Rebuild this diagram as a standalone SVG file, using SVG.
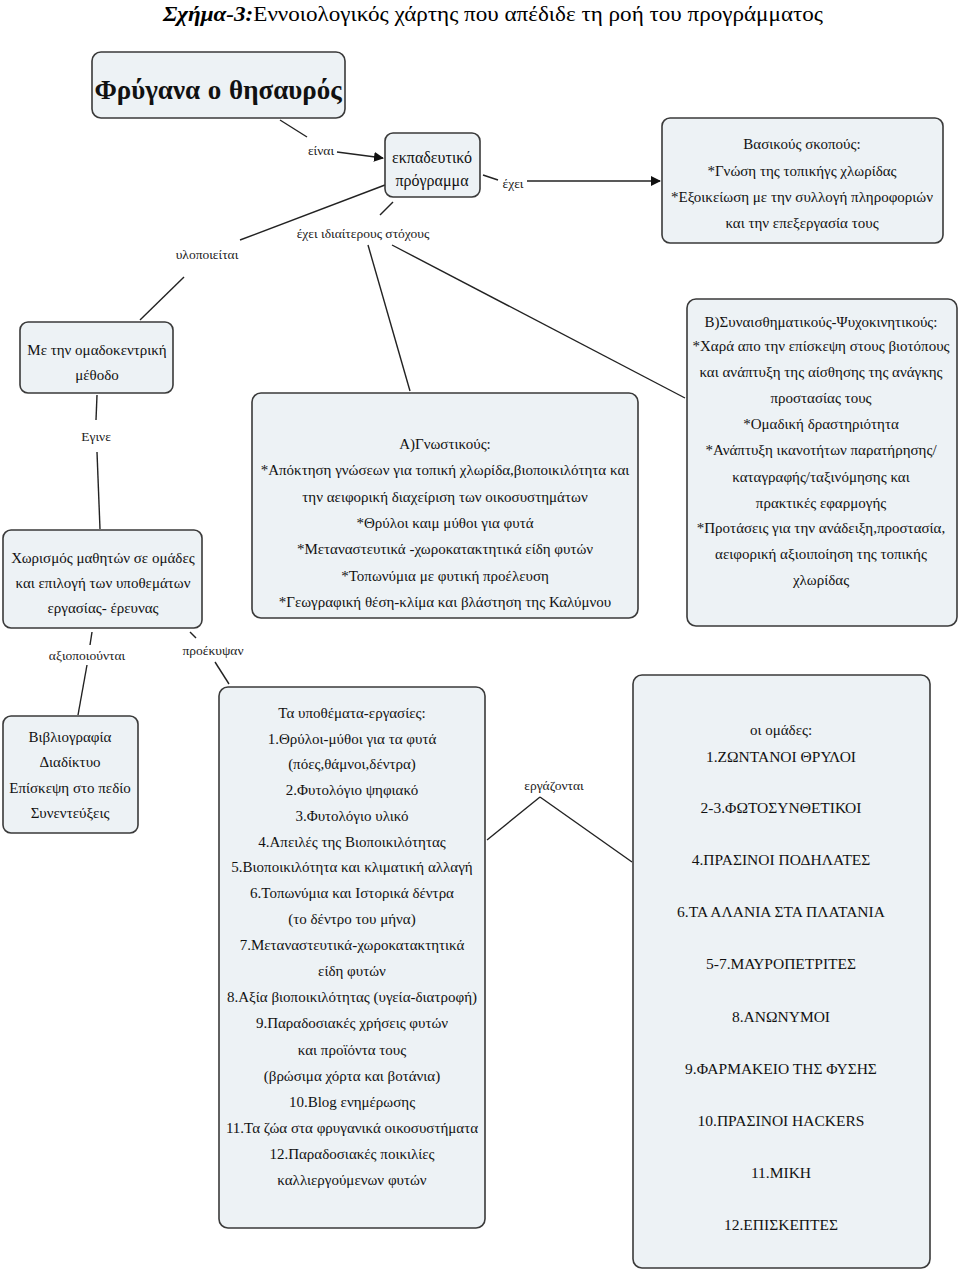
<svg xmlns="http://www.w3.org/2000/svg" width="960" height="1277" viewBox="0 0 960 1277">
<defs>
<style>
.box{fill:#edf2f5;stroke:#3a3a3a;stroke-width:1.6}
.t{font-family:"Liberation Serif","Times New Roman",serif;font-size:15px;fill:#111;text-anchor:middle}
.lbl{font-family:"Liberation Serif","Times New Roman",serif;font-size:13.5px;fill:#222;text-anchor:middle}
.c{stroke:#222;stroke-width:1.4;fill:none}
</style>
<marker id="ah" markerWidth="10" markerHeight="10" refX="9" refY="5" orient="auto" markerUnits="userSpaceOnUse" viewBox="0 0 10 10">
<path d="M0,0 L10,5 L0,10 z" fill="#111"/>
</marker>
</defs>
<rect width="960" height="1277" fill="#fff"/>
<text x="493" y="21" font-family="'Liberation Serif',serif" font-size="22" text-anchor="middle" fill="#000" textLength="660" lengthAdjust="spacingAndGlyphs"><tspan font-weight="bold" font-style="italic">Σχήμα-3:</tspan>Εννοιολογικός χάρτης που απέδιδε τη ροή του προγράμματος</text>

<g id="connectors">
<line class="c" x1="280" y1="120" x2="307" y2="137"/>
<line class="c" x1="337" y1="152" x2="383" y2="158" marker-end="url(#ah)"/>
<line class="c" x1="483" y1="175" x2="498" y2="180"/>
<line class="c" x1="527" y1="181" x2="660" y2="181" marker-end="url(#ah)"/>
<line class="c" x1="385" y1="185" x2="240" y2="240"/>
<line class="c" x1="184" y1="277" x2="140" y2="320"/>
<line class="c" x1="393" y1="202" x2="380" y2="215"/>
<line class="c" x1="368" y1="245" x2="410" y2="391"/>
<line class="c" x1="392" y1="245" x2="685" y2="398"/>
<line class="c" x1="97" y1="395" x2="96" y2="420"/>
<line class="c" x1="97" y1="452" x2="100" y2="529"/>
<line class="c" x1="92" y1="632" x2="90" y2="645"/>
<line class="c" x1="87" y1="665" x2="78" y2="715"/>
<line class="c" x1="190" y1="632" x2="196" y2="638"/>
<line class="c" x1="215" y1="662" x2="229" y2="684"/>
<line class="c" x1="487" y1="840" x2="540" y2="797"/>
<line class="c" x1="540" y1="797" x2="632" y2="862"/>
</g>

<g id="labels">
<text class="lbl" x="321" y="155">είναι</text>
<text class="lbl" x="513" y="188">έχει</text>
<text class="lbl" x="363" y="238">έχει ιδιαίτερους στόχους</text>
<text class="lbl" x="207" y="259">υλοποιείται</text>
<text class="lbl" x="96" y="441">Εγινε</text>
<text class="lbl" x="87" y="660">αξιοποιούνται</text>
<text class="lbl" x="213" y="655">προέκυψαν</text>
<text class="lbl" x="554" y="790">εργάζονται</text>
</g>

<g id="n-frygana">
<rect class="box" x="92" y="52" width="253" height="66" rx="9"/>
<text x="218" y="99" font-family="'Liberation Serif',serif" font-size="27" font-weight="bold" text-anchor="middle" fill="#111" word-spacing="1">Φρύγανα ο θησαυρός</text>
</g>

<g id="n-programma">
<rect class="box" x="385" y="133" width="95" height="64" rx="8"/>
<text class="t" x="432" y="163" style="font-size:16px">εκπαδευτικό</text>
<text class="t" x="432" y="186" style="font-size:16px">πρόγραμμα</text>
</g>

<g id="n-skopoi">
<rect class="box" x="662" y="118" width="281" height="125" rx="8"/>
<text class="t" x="802" y="149">Βασικούς σκοπούς:</text>
<text class="t" x="802" y="176">*Γνώση της τοπικήγς χλωρίδας</text>
<text class="t" x="802" y="202">*Εξοικείωση με την συλλογή πληροφοριών</text>
<text class="t" x="802" y="228">και την επεξεργασία τους</text>
</g>

<g id="n-methodos">
<rect class="box" x="20" y="322" width="153" height="71" rx="8"/>
<text class="t" x="97" y="355">Με την ομαδοκεντρική</text>
<text class="t" x="97" y="380">μέθοδο</text>
</g>

<g id="n-gnostikous">
<rect class="box" x="252" y="393" width="386" height="225" rx="9"/>
<text class="t" x="445" y="449">A)Γνωστικούς:</text>
<text class="t" x="445" y="475">*Απόκτηση γνώσεων για τοπική χλωρίδα,βιοποικιλότητα και</text>
<text class="t" x="445" y="502">την αειφορική διαχείριση των οικοσυστημάτων</text>
<text class="t" x="445" y="528">*Θρύλοι καιμ μύθοι για φυτά</text>
<text class="t" x="445" y="554">*Μεταναστευτικά -χωροκατακτητικά είδη φυτών</text>
<text class="t" x="445" y="581">*Τοπωνύμια με φυτική προέλευση</text>
<text class="t" x="445" y="607">*Γεωγραφική θέση-κλίμα και βλάστηση της Καλύμνου</text>
</g>

<g id="n-synaisth">
<rect class="box" x="687" y="299" width="270" height="327" rx="9"/>
<text class="t" x="821" y="327">B)Συναισθηματικούς-Ψυχοκινητικούς:</text>
<text class="t" x="821" y="351">*Χαρά απο την επίσκεψη στους βιοτόπους</text>
<text class="t" x="821" y="377">και ανάπτυξη της αίσθησης της ανάγκης</text>
<text class="t" x="821" y="403">προστασίας τους</text>
<text class="t" x="821" y="429">*Ομαδική δραστηριότητα</text>
<text class="t" x="821" y="455">*Ανάπτυξη ικανοτήτων παρατήρησης/</text>
<text class="t" x="821" y="482">καταγραφής/ταξινόμησης και</text>
<text class="t" x="821" y="508">πρακτικές εφαρμογής</text>
<text class="t" x="821" y="533">*Προτάσεις για την ανάδειξη,προστασία,</text>
<text class="t" x="821" y="559">αειφορική αξιοιποίηση της τοπικής</text>
<text class="t" x="821" y="585">χλωρίδας</text>
</g>

<g id="n-xorismos">
<rect class="box" x="3" y="530" width="199" height="98" rx="8"/>
<text class="t" x="103" y="563">Χωρισμός μαθητών σε ομάδες</text>
<text class="t" x="103" y="588">και επιλογή των υποθεμάτων</text>
<text class="t" x="103" y="613">εργασίας- έρευνας</text>
</g>

<g id="n-vivliografia">
<rect class="box" x="3" y="716" width="135" height="117" rx="8"/>
<text class="t" x="70" y="742">Βιβλιογραφία</text>
<text class="t" x="70" y="767">Διαδίκτυο</text>
<text class="t" x="70" y="793">Επίσκεψη στο πεδίο</text>
<text class="t" x="70" y="818">Συνεντεύξεις</text>
</g>

<g id="n-ypothemata">
<rect class="box" x="219" y="687" width="266" height="541" rx="9"/>
<text class="t" x="352" y="718">Τα υποθέματα-εργασίες:</text>
<text class="t" x="352" y="744">1.Θρύλοι-μύθοι για τα φυτά</text>
<text class="t" x="352" y="769">(πόες,θάμνοι,δέντρα)</text>
<text class="t" x="352" y="795">2.Φυτολόγιο ψηφιακό</text>
<text class="t" x="352" y="821">3.Φυτολόγιο υλικό</text>
<text class="t" x="352" y="847">4.Απειλές της Βιοποικιλότητας</text>
<text class="t" x="352" y="872">5.Βιοποικιλότητα και κλιματική αλλαγή</text>
<text class="t" x="352" y="898">6.Τοπωνύμια και Ιστορικά δέντρα</text>
<text class="t" x="352" y="924">(το δέντρο του μήνα)</text>
<text class="t" x="352" y="950">7.Μεταναστευτικά-χωροκατακτητικά</text>
<text class="t" x="352" y="976">είδη φυτών</text>
<text class="t" x="352" y="1002">8.Αξία βιοποικιλότητας (υγεία-διατροφή)</text>
<text class="t" x="352" y="1028">9.Παραδοσιακές χρήσεις φυτών</text>
<text class="t" x="352" y="1055">και προϊόντα τους</text>
<text class="t" x="352" y="1081">(βρώσιμα χόρτα και βοτάνια)</text>
<text class="t" x="352" y="1107">10.Blog ενημέρωσης</text>
<text class="t" x="352" y="1133">11.Τα ζώα στα φρυγανικά οικοσυστήματα</text>
<text class="t" x="352" y="1159">12.Παραδοσιακές ποικιλίες</text>
<text class="t" x="352" y="1185">καλλιεργούμενων φυτών</text>
</g>

<g id="n-omades">
<rect class="box" x="633" y="675" width="297" height="593" rx="9"/>
<text class="t" x="781" y="735">οι ομάδες:</text>
<text class="t" x="781" y="762" style="font-size:15.5px">1.ΖΩΝΤΑΝΟΙ ΘΡΥΛΟΙ</text>
<text class="t" x="781" y="813" style="font-size:15.5px">2-3.ΦΩΤΟΣΥΝΘΕΤΙΚΟΙ</text>
<text class="t" x="781" y="865" style="font-size:15.5px">4.ΠΡΑΣΙΝΟΙ ΠΟΔΗΛΑΤΕΣ</text>
<text class="t" x="781" y="917" style="font-size:15.5px">6.ΤΑ ΑΛΑΝΙΑ ΣΤΑ ΠΛΑΤΑΝΙΑ</text>
<text class="t" x="781" y="969" style="font-size:15.5px">5-7.ΜΑΥΡΟΠΕΤΡΙΤΕΣ</text>
<text class="t" x="781" y="1022" style="font-size:15.5px">8.ΑΝΩΝΥΜΟΙ</text>
<text class="t" x="781" y="1074" style="font-size:15.5px">9.ΦΑΡΜΑΚΕΙΟ ΤΗΣ ΦΥΣΗΣ</text>
<text class="t" x="781" y="1126" style="font-size:15.5px">10.ΠΡΑΣΙΝΟΙ HACKERS</text>
<text class="t" x="781" y="1178" style="font-size:15.5px">11.ΜΙΚΗ</text>
<text class="t" x="781" y="1230" style="font-size:15.5px">12.ΕΠΙΣΚΕΠΤΕΣ</text>
</g>
</svg>
